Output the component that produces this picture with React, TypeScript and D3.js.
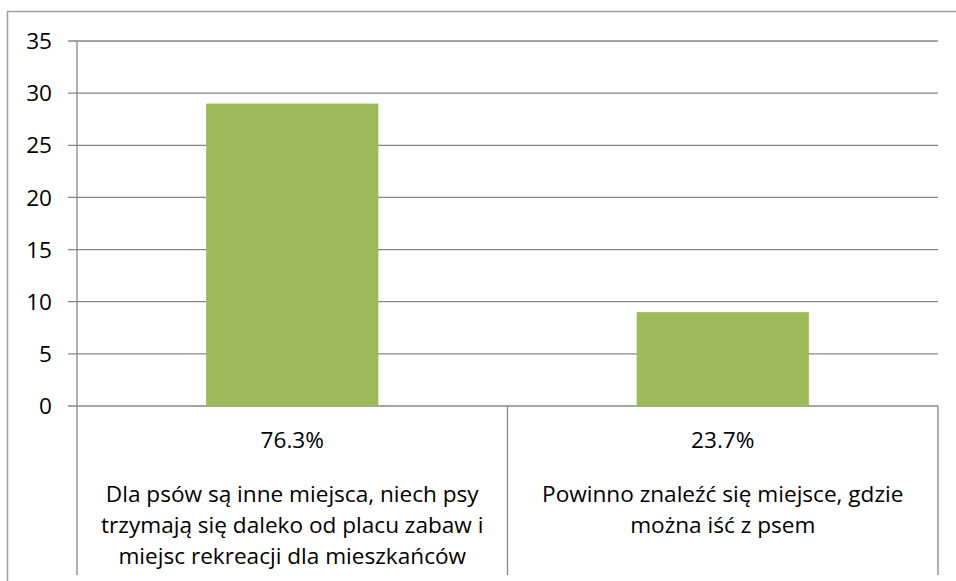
import React from "react";
import * as d3 from "d3";

const categories = [
  ["Dla psów są inne miejsca, niech psy", "trzymają się daleko od placu zabaw i", "miejsc rekreacji dla mieszkańców"],
  ["Powinno znaleźć się miejsce, gdzie", "można iść z psem"],
];
const percents = ["76.3%", "23.7%"];
const values = [29, 9];
const yTicks = [0, 5, 10, 15, 20, 25, 30, 35];

const W = 956;
const H = 581;
const left = 77;
const right = 938;
const top = 41;
const bottom = 406;
const font = "'Open Sans', 'Noto Sans', sans-serif";
const fs = 22.6;

export default function App() {
  const y = d3.scaleLinear().domain([0, 35]).range([bottom, top]);
  const x = d3
    .scaleBand<number>()
    .domain(values.map((_, i) => i))
    .range([left, right])
    .paddingInner(0.6)
    .paddingOuter(0.3);
  const band = d3.scaleBand<number>().domain(values.map((_, i) => i)).range([left, right]);
  const grid = "#868686";
  return (
    <svg width={W} height={H} style={{ position: "absolute", left: 0, top: 0 }}>
      <rect x={0} y={0} width={W} height={H} fill="#fff" />
      <path d={`M7.5,${H} V11.5 H${W}`} fill="none" stroke="#A0A0A0" strokeWidth={1.5} />
      {yTicks.map((t) => (
        <g key={t}>
          <line x1={68} x2={right} y1={y(t)} y2={y(t)} stroke={grid} strokeWidth={1.3} />
          <text x={52} y={y(t)} dy="0.36em" textAnchor="end" fontFamily={font} fontSize={fs} fill="#000">
            {t}
          </text>
        </g>
      ))}
      <line x1={left} x2={left} y1={top} y2={575} stroke={grid} strokeWidth={1.3} />
      {values.map((_, i) => (
        <line key={i} x1={band(i)! + band.bandwidth()} x2={band(i)! + band.bandwidth()} y1={bottom} y2={575} stroke={grid} strokeWidth={1.3} />
      ))}
      {values.map((v, i) => (
        <rect key={i} x={x(i)} y={y(v)} width={x.bandwidth()} height={y(0) - y(v)} fill="#9BBB59" />
      ))}
      {values.map((_, i) => {
        const cx = band(i)! + band.bandwidth() / 2;
        return (
          <g key={i} fontFamily={font} fontSize={fs} fill="#000" textAnchor="middle">
            <text x={cx} y={440} dy="0.36em">{percents[i]}</text>
            {categories[i].map((line, j) => (
              <text key={j} x={cx} y={494 + j * 31} dy="0.36em">{line}</text>
            ))}
          </g>
        );
      })}
    </svg>
  );
}
